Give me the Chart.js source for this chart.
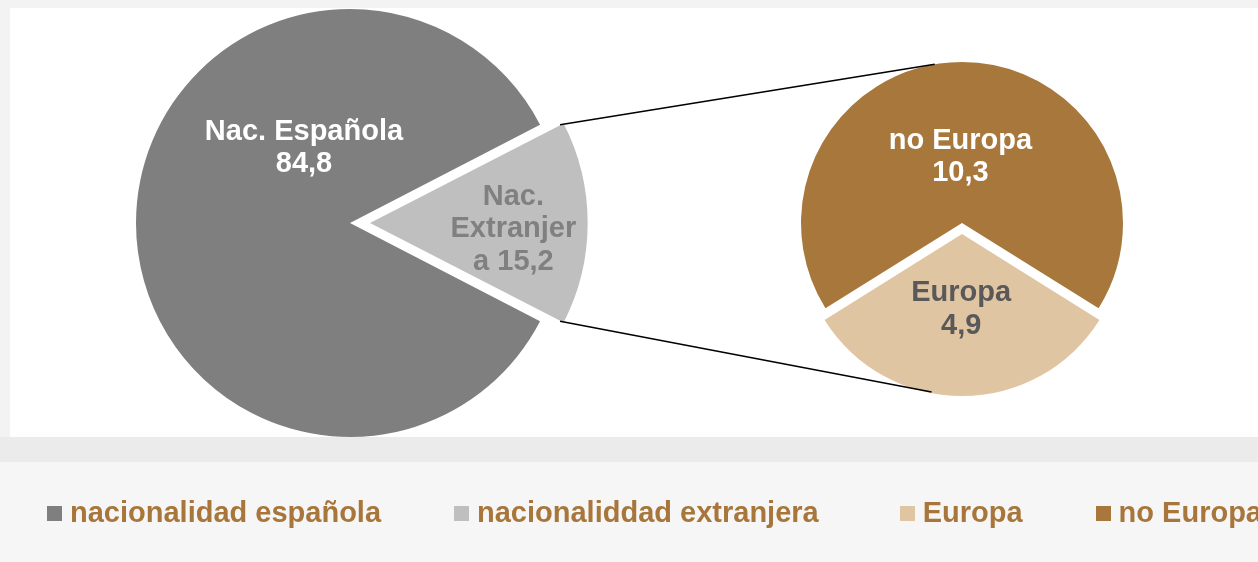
<!DOCTYPE html>
<html>
<head>
<meta charset="utf-8">
<script src="https://cdn.jsdelivr.net/npm/chart.js@4.4.0/dist/chart.umd.min.js"></script>
<style>
  body { margin: 0; background: #f3f3f3; font-family: "Liberation Sans", Arial, sans-serif; }
  #root { position: relative; width: 1258px; height: 562px; overflow: hidden; background: #f3f3f3; }
  #panel { position: absolute; left: 10px; top: 8px; width: 1248px; height: 429px; background: #fff; }
  #band { position: absolute; left: 0; top: 437px; width: 1258px; height: 25px; background: #ebebeb; }
  #legendBox { position: absolute; left: 0; top: 462px; width: 1258px; height: 100px; background: #f6f6f6; }
  #legend { position: absolute; left: 47px; top: 496px; display: flex; white-space: nowrap;
            font-weight: bold; font-size: 29px; color: #a8763b; line-height: 32px; }
  #legend span.sq { display: inline-block; width: 15px; height: 15px; margin-right: 8px; vertical-align: 1px; }
  canvas { position: absolute; }
</style>
</head>
<body>
<div id="root">
  <div id="panel"></div>
  <div id="band"></div>
  <div id="legendBox"></div>
  <canvas id="big" width="560" height="520" style="left:70px; top:-37px;"></canvas>
  <canvas id="small" width="380" height="380" style="left:772px; top:33px;"></canvas>
  <canvas id="lines" width="1258" height="562" style="left:0; top:0;"></canvas>
  <div id="legend"></div>
</div>
<script>
// data
const mainLabels = ['nacionalidad española', 'nacionaliddad extranjera'];
const mainValues = [84.8, 15.2];
const mainColors = ['#7f7f7f', '#bfbfbf'];

const subLabels = ['Europa', 'no Europa'];
const subValues = [4.9, 10.3];
const subColors = ['#e0c5a3', '#a8773c'];

// text drawn on the slices
const mainSliceText = [['Nac. Española', '84,8'], ['Nac.', 'Extranjer', 'a 15,2']];
const subSliceText = [['Europa', '4,9'], ['no Europa', '10,3']];

// legend order
const legendLabels = ['nacionalidad española', 'nacionaliddad extranjera', 'Europa', 'no Europa'];
const legendColors = ['#7f7f7f', '#bfbfbf', '#e0c5a3', '#a8773c'];
const legendGaps = [0, 73, 81, 73];

const FONT = '"Liberation Sans", Arial, sans-serif';

// rotation so slice `idx` is centred on `angle` (degrees, 0 = top, clockwise)
function rotationFor(values, idx, angle) {
  const total = values.reduce((a, b) => a + b, 0);
  let before = 0;
  for (let i = 0; i < idx; i++) before += values[i];
  return angle - (before + values[idx] / 2) / total * 360;
}

// chart.js v4 moves an arc by offset / 4
function shift(arc) {
  return (arc.options.offset || 0) / 4;
}

// draws the multi-line labels inside the slices
const sliceText = {
  id: 'sliceText',
  afterDatasetsDraw(chart, args, opts) {
    const ctx = chart.ctx;
    const arcs = chart.getDatasetMeta(0).data;
    ctx.save();
    ctx.font = 'bold 29px ' + FONT;
    ctx.textAlign = 'center';
    ctx.textBaseline = 'middle';
    arcs.forEach((arc, i) => {
      const lines = opts.text[i];
      const mid = (arc.startAngle + arc.endAngle) / 2;
      const off = shift(arc);
      const cx = arc.x + off * Math.cos(mid) + opts.pos[i][0] * arc.outerRadius;
      const cy = arc.y + off * Math.sin(mid) + opts.pos[i][1] * arc.outerRadius;
      const top = cy - (lines.length - 1) * opts.lineH / 2;
      ctx.fillStyle = opts.color[i];
      lines.forEach((t, j) => ctx.fillText(t, cx, top + j * opts.lineH));
    });
    ctx.restore();
  }
};

const bigChart = new Chart(document.getElementById('big'), {
  type: 'pie',
  data: {
    labels: mainLabels,
    datasets: [{
      data: mainValues,
      backgroundColor: mainColors,
      borderWidth: 0,
      offset: [0, 80]
    }]
  },
  options: {
    responsive: false,
    animation: false,
    rotation: rotationFor(mainValues, 1, 90),
    layout: { padding: { left: 26, right: 26, top: 6, bottom: 6 } },
    plugins: {
      legend: { display: false },
      tooltip: { enabled: false },
      sliceText: {
        text: mainSliceText,
        color: ['#ffffff', '#808080'],
        pos: [[-0.215, -0.35], [0.67, 0.03]],
        lineH: 32.5
      }
    }
  },
  plugins: [sliceText]
});

const smallChart = new Chart(document.getElementById('small'), {
  type: 'pie',
  data: {
    labels: subLabels,
    datasets: [{
      data: subValues,
      backgroundColor: subColors,
      borderWidth: 0,
      offset: [44, 0]
    }]
  },
  options: {
    responsive: false,
    animation: false,
    rotation: rotationFor(subValues, 0, 180),
    layout: { padding: 7 },
    plugins: {
      legend: { display: false },
      tooltip: { enabled: false },
      sliceText: {
        text: subSliceText,
        color: ['#595959', '#ffffff'],
        pos: [[-0.005, 0.47], [-0.01, -0.41]],
        lineH: 32.5
      }
    }
  },
  plugins: [sliceText]
});

// connector lines between the exploded slice and the second pie
function drawConnectors() {
  const bigCanvas = document.getElementById('big');
  const smallCanvas = document.getElementById('small');
  const ex = bigChart.getDatasetMeta(0).data[1];
  const mid = (ex.startAngle + ex.endAngle) / 2;
  const eo = shift(ex);
  const bx = bigCanvas.offsetLeft + ex.x + eo * Math.cos(mid);
  const by = bigCanvas.offsetTop + ex.y + eo * Math.sin(mid);
  const p1 = [bx + ex.outerRadius * Math.cos(ex.startAngle), by + ex.outerRadius * Math.sin(ex.startAngle)];
  const p2 = [bx + ex.outerRadius * Math.cos(ex.endAngle), by + ex.outerRadius * Math.sin(ex.endAngle)];

  const eu = smallChart.getDatasetMeta(0).data[0];
  const sx = smallCanvas.offsetLeft + eu.x;
  const sy = smallCanvas.offsetTop + eu.y;
  const r = eu.outerRadius;
  const euOff = shift(eu);
  const q1 = [sx + r * Math.cos(-Math.PI / 2 - 0.17), sy + r * Math.sin(-Math.PI / 2 - 0.17)];
  const q2 = [sx + r * Math.cos(Math.PI / 2 + 0.19), sy + euOff + r * Math.sin(Math.PI / 2 + 0.19)];

  const ctx = document.getElementById('lines').getContext('2d');
  ctx.strokeStyle = '#000';
  ctx.lineWidth = 1.5;
  ctx.beginPath();
  ctx.moveTo(p1[0], p1[1]); ctx.lineTo(q1[0], q1[1]);
  ctx.moveTo(p2[0], p2[1]); ctx.lineTo(q2[0], q2[1]);
  ctx.stroke();
}
drawConnectors();

// legend
const legend = document.getElementById('legend');
legendLabels.forEach((label, i) => {
  const item = document.createElement('div');
  item.style.marginLeft = legendGaps[i] + 'px';
  const sq = document.createElement('span');
  sq.className = 'sq';
  sq.style.background = legendColors[i];
  item.appendChild(sq);
  item.appendChild(document.createTextNode(label));
  legend.appendChild(item);
});
</script>
</body>
</html>
